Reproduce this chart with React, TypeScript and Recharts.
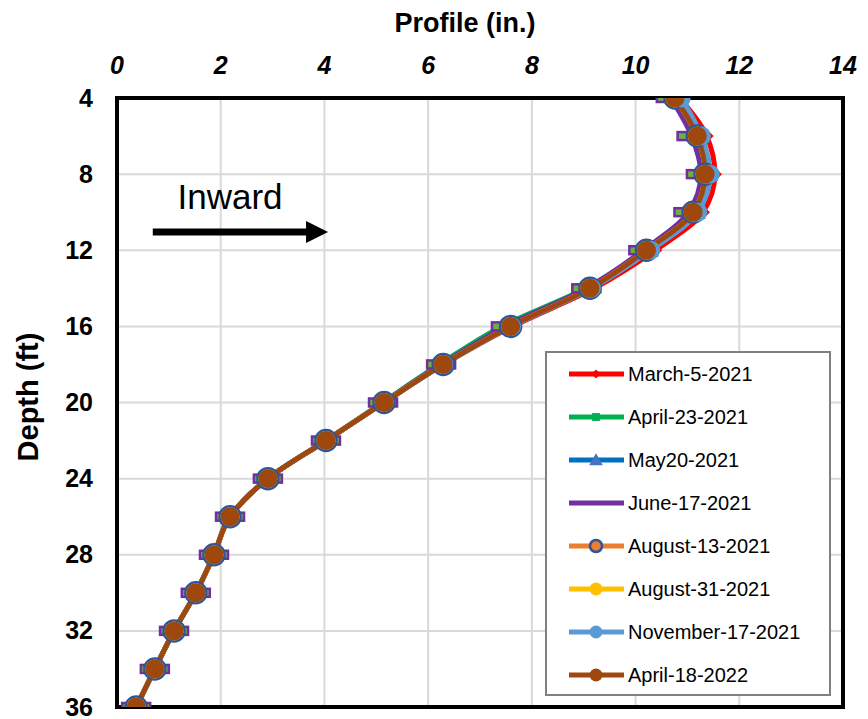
import React from 'react';
import {
  LineChart, Line, XAxis, YAxis, CartesianGrid, Legend, ReferenceArea, ReferenceLine, ReferenceDot,
} from 'recharts';

const depths = [4, 6, 8, 10, 12, 14, 16, 18, 20, 22, 24, 26, 28, 30, 32, 34, 36];
const march5 = [10.85, 11.37, 11.53, 11.3, 10.38, 9.2, 7.63, 6.3, 5.15, 4.03, 2.91, 2.18, 1.87, 1.52, 1.1, 0.73, 0.37];
const april23 = [10.72, 11.15, 11.3, 11.07, 10.18, 9.04, 7.42, 6.22, 5.12, 4.03, 2.91, 2.18, 1.87, 1.52, 1.1, 0.73, 0.37];
const may20 = [10.85, 11.26, 11.42, 11.18, 10.27, 9.14, 7.6, 6.29, 5.15, 4.03, 2.91, 2.18, 1.87, 1.52, 1.1, 0.73, 0.37];
const june17 = [10.68, 11.08, 11.26, 11.02, 10.15, 9.05, 7.5, 6.25, 5.13, 4.03, 2.91, 2.18, 1.87, 1.52, 1.1, 0.73, 0.37];
const aug13 = [10.76, 11.19, 11.34, 11.11, 10.21, 9.12, 7.59, 6.29, 5.15, 4.03, 2.91, 2.18, 1.87, 1.52, 1.1, 0.73, 0.37];
const aug31 = [10.76, 11.19, 11.34, 11.11, 10.21, 9.12, 7.59, 6.29, 5.15, 4.03, 2.91, 2.18, 1.87, 1.52, 1.1, 0.73, 0.37];
const nov17 = [10.88, 11.27, 11.44, 11.2, 10.29, 9.15, 7.61, 6.3, 5.15, 4.03, 2.91, 2.18, 1.87, 1.52, 1.1, 0.73, 0.37];
const april18 = [10.76, 11.19, 11.34, 11.11, 10.21, 9.12, 7.59, 6.29, 5.15, 4.03, 2.91, 2.18, 1.87, 1.52, 1.1, 0.73, 0.37];

const xTicks = [0, 2, 4, 6, 8, 10, 12, 14];
const yTicks = [4, 8, 12, 16, 20, 24, 28, 32, 36];

const seriesNames = [
  'March-5-2021', 'April-23-2021', 'May20-2021', 'June-17-2021',
  'August-13-2021', 'August-31-2021', 'November-17-2021', 'April-18-2022',
];
const seriesKeys = ['march5', 'april23', 'may20', 'june17', 'aug13', 'aug31', 'nov17', 'april18'];
const seriesColors = ['#ff0000', '#00b050', '#0070c0', '#7030a0', '#ed7d31', '#ffc000', '#5b9bd5', '#9e480e'];
const seriesMarkers = ['diamond', 'square', 'triangle', 'dash', 'ringcircle', 'circle', 'circle', 'circle'];

// Annotation (data coordinates)
const arrowStart = { x: 0.69, y: 11.04 };
const arrowEnd = { x: 4.07, y: 11.04 };
const inwardPos = { x: 2.18, y: 9.2 };

const data = depths.map((d, i) => ({
  depth: d,
  march5: march5[i],
  april23: april23[i],
  may20: may20[i],
  june17: june17[i],
  aug13: aug13[i],
  aug31: aug31[i],
  nov17: nov17[i],
  april18: april18[i],
}));

const FONT = 'Liberation Sans, Arial, Helvetica, sans-serif';

function marker(kind: string, color: string, cx: number, cy: number, legend: boolean, key?: any) {
  const s = legend ? 0.65 : 1;
  if (kind === 'diamond') {
    const r = 7 * s;
    return <polygon key={key} points={`${cx},${cy - r} ${cx + r},${cy} ${cx},${cy + r} ${cx - r},${cy}`} fill={color} />;
  }
  if (kind === 'square') {
    const r = 4.5 * s + (legend ? 1 : 0);
    return <rect key={key} x={cx - r} y={cy - r} width={2 * r} height={2 * r} fill={color} />;
  }
  if (kind === 'triangle') {
    const r = 9 * s + (legend ? 1 : 0);
    return <polygon key={key} points={`${cx},${cy - r} ${cx + r},${cy + r * 0.75} ${cx - r},${cy + r * 0.75}`} fill="#4472c4" />;
  }
  if (kind === 'dash') {
    if (legend) return <g key={key} />;
    return <rect key={key} x={cx - 14} y={cy - 4} width={28} height={8} fill="#70ad47" stroke="#7030a0" strokeWidth={2.5} />;
  }
  if (kind === 'ringcircle') {
    const r = legend ? 6 : 10.5;
    return <circle key={key} cx={cx} cy={cy} r={r} fill={color} stroke="#2f5597" strokeWidth={2.5} />;
  }
  const r = legend ? 6.5 : 9.5;
  return <circle key={key} cx={cx} cy={cy} r={r} fill={color} />;
}

const XTick = (props: any) => {
  const { x, y, payload } = props;
  return (
    <text x={x} y={y - 24} textAnchor="middle" fontSize={25} fontWeight="bold" fontStyle="italic" fontFamily={FONT} fill="#000">
      {payload.value}
    </text>
  );
};

const YTick = (props: any) => {
  const { x, y, payload } = props;
  return (
    <text x={x - 24} y={y + 8.5} textAnchor="end" fontSize={25} fontWeight="bold" fontFamily={FONT} fill="#000">
      {payload.value}
    </text>
  );
};

const LegendBox = () => (
  <div
    style={{
      width: 286, height: 345, boxSizing: 'border-box', border: '2px solid #808080', background: '#fff',
      position: 'relative', fontFamily: FONT,
    }}
  >
    {seriesNames.map((name, i) => {
      const top = 20.7 + i * 43;
      return (
        <div key={name} style={{ position: 'absolute', left: 0, top: top - 15, height: 30, width: 280 }}>
          <svg width={60} height={30} style={{ position: 'absolute', left: 20, top: 0 }}>
            <line x1={2} y1={15} x2={57} y2={15} stroke={seriesColors[i]} strokeWidth={5} />
            {marker(seriesMarkers[i], seriesColors[i], 29, 15, true)}
          </svg>
          <span style={{ position: 'absolute', left: 81, top: 3, fontSize: 20, lineHeight: '24px', color: '#000', whiteSpace: 'nowrap' }}>
            {name}
          </span>
        </div>
      );
    })}
  </div>
);

const ArrowShape = (p: any) => {
  const { x1, y1, x2, y2 } = p;
  return (
    <g>
      <line x1={x1} y1={y1} x2={x2 - 18} y2={y2} stroke="#000" strokeWidth={7} />
      <polygon points={`${x2},${y2} ${x2 - 22},${y2 - 11} ${x2 - 22},${y2 + 11}`} fill="#000" />
    </g>
  );
};

export default function App() {
  return (
    <div style={{ position: 'absolute', left: 0, top: 0, width: 868, height: 719, background: '#fff' }}>
      <LineChart
        width={868}
        height={719}
        data={data}
        layout="vertical"
        margin={{ top: 0, right: 25, bottom: 12, left: 0 }}
        style={{ fontFamily: FONT }}
      >
        <CartesianGrid stroke="#d9d9d9" strokeWidth={2} />
        <XAxis
          type="number"
          orientation="top"
          domain={[0, 14]}
          ticks={xTicks}
          height={98}
          axisLine={false}
          tickLine={false}
          tickSize={0}
          tickMargin={0}
          tick={<XTick />}
          interval={0}
          allowDataOverflow
          label={{
            content: (lp: any) => {
              const vb = lp.viewBox || { x: 117, width: 726 };
              return (
                <text x={vb.x + vb.width / 2 - 15} y={32} textAnchor="middle" fontSize={27} fontWeight="bold" fontFamily={FONT} fill="#000">
                  Profile (in.)
                </text>
              );
            },
          }}
        />
        <YAxis
          type="number"
          dataKey="depth"
          domain={[4, 36]}
          ticks={yTicks}
          width={117}
          axisLine={false}
          tickLine={false}
          tickSize={0}
          tickMargin={0}
          tick={<YTick />}
          interval={0}
          allowDataOverflow
          label={{
            content: () => (
              <text
                x={28}
                y={397}
                transform="rotate(-90, 28, 397)"
                textAnchor="middle"
                dominantBaseline="central"
                fontSize={29}
                fontWeight="bold"
                fontFamily={FONT}
                fill="#000"
              >
                Depth (ft)
              </text>
            ),
          }}
        />
        <ReferenceArea x1={0} x2={14} y1={4} y2={36} fill="none" fillOpacity={0} stroke="#000" strokeWidth={4} />
        <ReferenceLine segment={[arrowStart, arrowEnd]} shape={ArrowShape} />
        <ReferenceDot
          x={inwardPos.x}
          y={inwardPos.y}
          r={0}
          fill="none"
          stroke="none"
          label={{
            content: (lp: any) => {
              const vb = lp.viewBox || {};
              const cx = (vb.x ?? 0) + (vb.width ?? 0) / 2;
              const cy = (vb.y ?? 0) + (vb.height ?? 0) / 2;
              return (
                <text x={cx} y={cy + 12} textAnchor="middle" fontSize={35} fontFamily={FONT} fill="#000">
                  Inward
                </text>
              );
            },
          }}
        />
        {seriesKeys.map((k, i) => (
          <Line
            key={k}
            dataKey={k}
            name={seriesNames[i]}
            type="monotone"
            stroke={seriesColors[i]}
            strokeWidth={5}
            isAnimationActive={false}
            dot={(dp: any) => marker(seriesMarkers[i], seriesColors[i], dp.cx, dp.cy, false, `${k}-${dp.index}`)}
            activeDot={false}
          />
        ))}
        <Legend
          layout="horizontal"
          verticalAlign="middle"
          align="center"
          content={() => <LegendBox />}
          wrapperStyle={{ left: 545, top: 351, width: 286, height: 345 }}
        />
      </LineChart>
    </div>
  );
}
